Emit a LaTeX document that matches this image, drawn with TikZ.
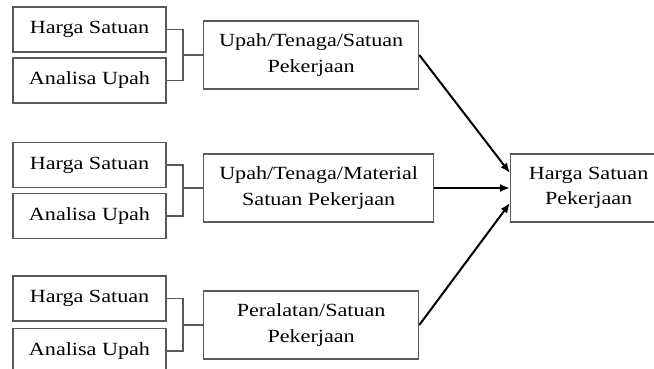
\documentclass[tikz,border=0pt]{standalone}
\usepackage{fontspec}
\setmainfont[FakeStretch=1.19]{Liberation Serif}
\usetikzlibrary{arrows.meta}
\begin{document}
\begin{tikzpicture}[x=1pt,y=1pt,
  box/.style={draw=black!65, line width=1.3pt, align=center, inner sep=0pt,
    font=\fontsize{18.6}{25.6}\selectfont},
  inbox/.style={box, minimum width=153pt, minimum height=45pt},
  link/.style={draw=black!65, line width=1.3pt},
  arr/.style={draw=black, line width=2pt, -{Latex[length=10pt,width=8pt]}}]
\useasboundingbox (0,0) rectangle (654,-368);
% group 1
\node[inbox] (h1) at (89.5,-29.5) {Harga Satuan};
\node[inbox] (a1) at (89.5,-80.5) {Analisa Upah};
\node[box, minimum width=215pt, minimum height=68pt, anchor=west] (m1) at (203,-55) {Upah/Tenaga/Satuan\\Pekerjaan};
% group 2
\node[inbox] (h2) at (89.5,-165) {Harga Satuan};
\node[inbox] (a2) at (89.5,-216) {Analisa Upah};
\node[box, minimum width=230pt, minimum height=68pt, anchor=west] (m2) at (203,-188) {Upah/Tenaga/Material\\Satuan Pekerjaan};
% group 3
\node[inbox] (h3) at (89.5,-298.5) {Harga Satuan};
\node[inbox] (a3) at (89.5,-351) {Analisa Upah};
\node[box, minimum width=215pt, minimum height=68pt, anchor=west] (m3) at (203,-325) {Peralatan/Satuan\\Pekerjaan};
% result
\node[box, minimum width=156pt, minimum height=68pt, anchor=west] (r) at (510,-188) {Harga Satuan\\Pekerjaan};
% brackets
\foreach \i in {1,2,3}{
  \draw[link] (h\i.east) -| ([xshift=-20pt]m\i.west) |- (a\i.east);
  \draw[link] ([xshift=-20pt]m\i.west) -- (m\i.west);
}
% arrows
\coordinate (r1) at ([yshift=15pt]r.west);
\coordinate (r3) at ([yshift=-15pt]r.west);
\draw[arr] (m1.east) -- (r1);
\draw[arr] (m2.east) -- (r.west);
\draw[arr] (m3.east) -- (r3);
\end{tikzpicture}
\end{document}
